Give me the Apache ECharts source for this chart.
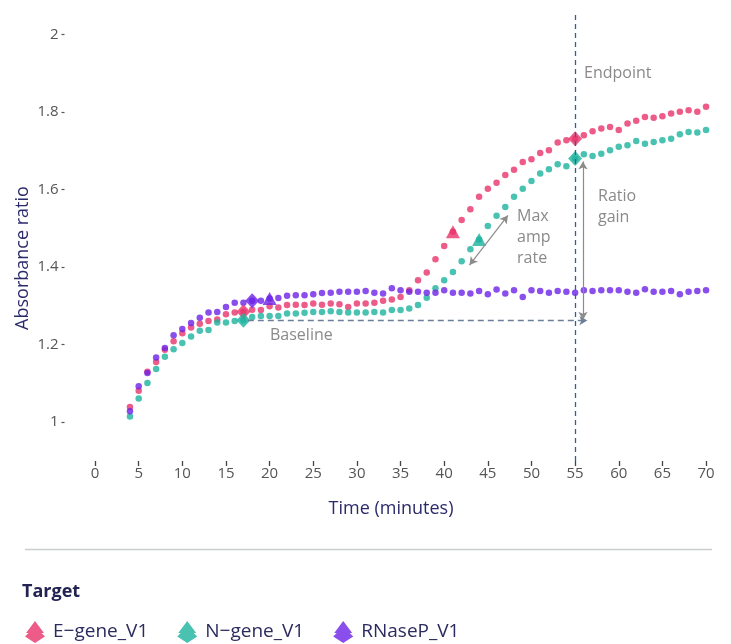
<!DOCTYPE html>
<html><head><meta charset="utf-8">
<script src="https://cdn.jsdelivr.net/npm/echarts@6/dist/echarts.min.js"></script>
<style>html,body{margin:0;padding:0;background:#fff}#c{width:731px;height:644px}</style>
</head><body><div id="c"></div>
<script>
// ---- data ----
const times = [4,5,6,7,8,9,10,11,12,13,14,15,16,17,18,19,20,21,22,23,24,25,26,27,28,29,30,31,32,33,34,35,36,37,38,39,40,41,42,43,44,45,46,47,48,49,50,51,52,53,54,55,56,57,58,59,60,61,62,63,64,65,66,67,68,69,70];
const eGene = [1.039,1.081,1.130,1.155,1.187,1.209,1.229,1.244,1.254,1.261,1.265,1.278,1.283,1.285,1.290,1.289,1.299,1.296,1.302,1.303,1.302,1.306,1.303,1.306,1.304,1.297,1.306,1.306,1.308,1.313,1.316,1.323,1.340,1.366,1.386,1.420,1.454,1.491,1.521,1.549,1.581,1.602,1.617,1.637,1.651,1.671,1.678,1.694,1.701,1.721,1.727,1.731,1.740,1.750,1.757,1.761,1.753,1.770,1.777,1.787,1.785,1.789,1.796,1.800,1.804,1.800,1.813];
const nGene = [1.015,1.061,1.101,1.137,1.169,1.188,1.204,1.221,1.236,1.238,1.257,1.257,1.261,1.263,1.271,1.274,1.274,1.274,1.280,1.280,1.282,1.284,1.284,1.286,1.284,1.283,1.283,1.283,1.284,1.283,1.289,1.289,1.293,1.302,1.321,1.345,1.366,1.387,1.415,1.446,1.471,1.506,1.532,1.555,1.581,1.602,1.622,1.641,1.652,1.665,1.660,1.680,1.691,1.686,1.692,1.701,1.710,1.714,1.725,1.718,1.722,1.727,1.731,1.742,1.748,1.747,1.753];
const rnaseP = [1.028,1.093,1.127,1.167,1.191,1.224,1.240,1.256,1.269,1.283,1.284,1.297,1.308,1.308,1.313,1.313,1.319,1.320,1.326,1.327,1.327,1.330,1.333,1.334,1.336,1.336,1.336,1.338,1.334,1.332,1.345,1.340,1.336,1.336,1.334,1.334,1.340,1.334,1.334,1.332,1.338,1.330,1.342,1.332,1.340,1.323,1.340,1.338,1.334,1.338,1.336,1.334,1.340,1.338,1.340,1.340,1.340,1.336,1.334,1.343,1.336,1.336,1.338,1.330,1.336,1.338,1.340];

const seriesNames = ['E\u2212gene_V1','N\u2212gene_V1','RNaseP_V1'];
const diamondTimes = [[17,55],[17,55],[18]];
const triangleTimes = [[41],[44],[20]];

const xTicks = [0,5,10,15,20,25,30,35,40,45,50,55,60,65,70];
const yTicks = [1,1.2,1.4,1.6,1.8,2];

// annotation values
const endpointTime = 55;
const baselineStart = [17.5,1.262], baselineEnd = [56.4,1.262];
const ratioGainTop = [55.9,1.672], ratioGainBottom = [55.9,1.264];
const maxAmpStart = [42.9,1.405], maxAmpEnd = [47.3,1.533];

// ---- chart ----
const colors = ['#e8336a','#1db39e','#6b22e6'];
const FONT = '"Open Sans", "Noto Sans", sans-serif';
const values = [eGene,nGene,rnaseP];
const legendIcon = 'path://M10,0 L19,12 L16.5,12 L20,15.5 L10,22 L0,15.5 L3.5,12 L1,12 Z';

const series = [];
values.forEach((vals,k)=>{
  series.push({
    name: seriesNames[k], type:'scatter', symbol:'circle', symbolSize:6.5,
    itemStyle:{color:colors[k]}, z:2,
    data: times.map((t,i)=>[t,vals[i]])
  });
});
values.forEach((vals,k)=>{
  const d = [];
  diamondTimes[k].forEach(t=>{ d.push({value:[t, vals[times.indexOf(t)]], symbol:'diamond', symbolSize:[14,15]}); });
  triangleTimes[k].forEach(t=>{ d.push({value:[t, vals[times.indexOf(t)]], symbol:'triangle', symbolSize:[14,13]}); });
  series.push({name: seriesNames[k], type:'scatter', itemStyle:{color:colors[k]}, z:3, data:d});
});
const grayLine = {color:'#8c8c8c', width:1.2, type:'solid'};
series.push({
  type:'scatter', data:[], silent:true, z:1,
  markLine:{
    silent:true, animation:false, symbol:['none','none'], label:{show:false},
    emphasis:{disabled:true},
    data:[
      {xAxis:endpointTime, lineStyle:{color:'#2d609a', width:1.3, type:[5,4]}},
      [{coord:baselineStart, symbol:'none', lineStyle:{color:'#6b7f99', width:1.3, type:[6,4]}},
       {coord:baselineEnd, symbol:'arrow', symbolSize:[7,8]}],
      [{coord:ratioGainTop, symbol:'arrow', symbolSize:[7,8], lineStyle:grayLine},
       {coord:ratioGainBottom, symbol:'arrow', symbolSize:[7,8]}],
      [{coord:maxAmpStart, symbol:'arrow', symbolSize:[7,8], lineStyle:grayLine},
       {coord:maxAmpEnd, symbol:'arrow', symbolSize:[7,8]}]
    ]
  }
});

const annText = (txt, x, y, extra) => Object.assign({type:'text', x, y, silent:true,
  style:{text:txt, fill:'#8a8a8a', font:'16px '+FONT, lineHeight:21, verticalAlign:'top'}}, extra||{});

const chart = echarts.init(document.getElementById('c'));
chart.setOption({
  animation:false,
  backgroundColor:'#fff',
  textStyle:{fontFamily:FONT},
  grid:{left:64.5, right:7.5, top:11, bottom:183},
  title:{text:'Target', left:17, top:578, textStyle:{fontSize:18, fontWeight:'bold', color:'#232352', fontFamily:FONT}},
  legend:{
    left:25, top:621, padding:0, itemWidth:20, itemHeight:22, itemGap:29,
    textStyle:{fontSize:19, color:'#2b2b5e', fontFamily:FONT, padding:[0,0,0,3]},
    data: seriesNames.map((n,k)=>({name:n, icon:legendIcon, itemStyle:{color:colors[k]}}))
  },
  xAxis:{
    type:'value', min:-3.5, max:72,
    axisLine:{show:false, onZero:false}, splitLine:{show:false},
    axisTick:{show:true, customValues:xTicks, length:5, lineStyle:{color:'#444', width:1.3}},
    axisLabel:{customValues:xTicks, color:'#555', fontSize:15, margin:5, fontFamily:FONT}
  },
  yAxis:{
    type:'value', min:0.9, max:2.06,
    axisLine:{show:false, onZero:false}, splitLine:{show:false},
    axisTick:{show:true, customValues:yTicks, length:3, lineStyle:{color:'#555', width:1.2}},
    axisLabel:{customValues:yTicks, color:'#555', fontSize:15, margin:6, fontFamily:FONT}
  },
  graphic:[
    {type:'text', x:23, y:258, rotation:Math.PI/2, silent:true,
     style:{text:'Absorbance ratio', fill:'#2b2a6b', font:'18px '+FONT, align:'center', verticalAlign:'middle'}},
    {type:'text', x:391, y:509, silent:true,
     style:{text:'Time (minutes)', fill:'#2b2a6b', font:'18px '+FONT, align:'center', verticalAlign:'middle'}},
    annText('Endpoint', 584, 63),
    annText('Ratio\ngain', 598, 186),
    annText('Max\namp\nrate', 517, 206),
    annText('Baseline', 270, 325),
    {type:'line', silent:true, shape:{x1:25,y1:549.5,x2:712,y2:549.5}, style:{stroke:'#c9cdcd', lineWidth:1.5}}
  ],
  series
});
</script></body></html>
